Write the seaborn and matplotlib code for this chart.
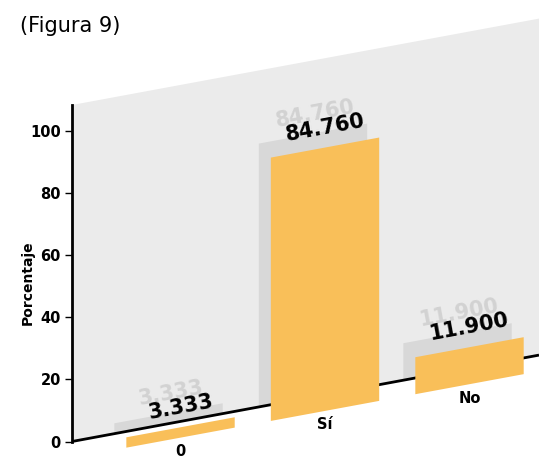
import numpy as np
import matplotlib
matplotlib.use('Agg')
import matplotlib.pyplot as plt
import seaborn as sns
from matplotlib.transforms import Affine2D
from matplotlib.patches import Rectangle
from matplotlib.lines import Line2D

# ---- data ----
categories = ['0', 'Sí', 'No']
values = [3.333, 84.760, 11.900]
value_labels = ['3.333', '84.760', '11.900']
yticks = [0, 20, 40, 60, 80, 100]
title = '(Figura 9)'
ylabel = 'Porcentaje'

sns.set_theme(style='white')
NARROW = ['Liberation Sans Narrow', 'DejaVu Sans']
plt.rcParams['font.family'] = NARROW

W, H, DPI = 539, 459, 100
fig = plt.figure(figsize=(W / DPI, H / DPI), dpi=DPI)
fig.patch.set_facecolor('white')

AX_L, AX_B, AX_T, AX_R = 72, 441.5, 105, 539
ax = fig.add_axes([AX_L / W, (H - AX_B) / H, (AX_R - AX_L) / W, (AX_B - AX_T) / H])
ax.patch.set_visible(False)

slope = 0.185
shear = Affine2D().translate(-AX_L, 0).skew(0, np.arctan(slope)).translate(AX_L, 0)
back = ax.transData + shear
front = back + Affine2D().translate(12, -14)
angle = np.degrees(np.arctan(slope))

SHADOW = '#d8d8d8'
ORANGE = '#f9bf59'
PANEL = '#ebebeb'

# shadow bars (back plane)
sns.barplot(x=categories, y=values, order=categories, color=SHADOW, saturation=1,
            width=0.75, linewidth=0, ax=ax)
n0 = len(ax.patches)
for p in ax.patches:
    p.set_transform(back)
    p.set_zorder(1)
    p.set_clip_on(False)

# front bars
sns.barplot(x=categories, y=values, order=categories, color=ORANGE, saturation=1,
            width=0.75, linewidth=0, ax=ax)
for p in ax.patches[n0:]:
    p.set_transform(front)
    p.set_zorder(4)
    p.set_clip_on(False)

ax.set_autoscale_on(False)
ax.set_xlim(-0.668, 2.564)
ax.set_ylim(0, 108.3)

# background wall
panel = Rectangle((0, 0), 1, 1, transform=ax.transAxes + shear, facecolor=PANEL,
                  edgecolor='none', zorder=0, clip_on=False)
ax.add_artist(panel)

# sheared base line
base = Line2D([0, 1], [0, 0], transform=ax.transAxes + shear, color='black', lw=2,
              zorder=3, clip_on=False, solid_capstyle='butt')
ax.add_artist(base)

# value labels
for i, (v, lab) in enumerate(zip(values, value_labels)):
    ax.text(i, v, lab, transform=back + Affine2D().translate(2, 20), rotation=angle,
            rotation_mode='anchor', ha='center', va='center', fontsize=15,
            fontweight='bold', family=['DejaVu Sans'], color='#d2d2d2', zorder=2,
            clip_on=False)
    ax.text(i, v, lab, transform=front + Affine2D().translate(0, 20), rotation=angle,
            rotation_mode='anchor', ha='center', va='center', fontsize=15,
            fontweight='bold', family=['DejaVu Sans'], color='black', zorder=6,
            clip_on=False)

# category labels
for i, c in enumerate(categories):
    ax.text(i, 0, c, transform=front + Affine2D().translate(0, -14), ha='center',
            va='center', fontsize=10.5, fontweight='bold', color='black', zorder=6,
            clip_on=False)

ax.set_xticks([])
ax.set_xlabel('')
ax.set_yticks(yticks)
ax.set_yticklabels([str(t) for t in yticks])
ax.tick_params(axis='y', left=True, length=5, width=1, color='black', labelsize=10.5,
               pad=3, labelcolor='black')
for lbl in ax.get_yticklabels():
    lbl.set_fontweight('bold')
for s in ['top', 'right', 'bottom']:
    ax.spines[s].set_visible(False)
ax.spines['left'].set_color('black')
ax.spines['left'].set_linewidth(2)
ax.spines['left'].set_zorder(5)

ax.set_ylabel(ylabel, fontsize=10, fontweight='bold', color='black')
ax.yaxis.set_label_coords((35 - AX_L) / (AX_R - AX_L), (AX_B - 283) / (AX_B - AX_T))

fig.text(20 / W, 1 - 26 / H, title, ha='left', va='center', fontsize=15, color='black')

fig.savefig('out.png', dpi=DPI, facecolor='white')
